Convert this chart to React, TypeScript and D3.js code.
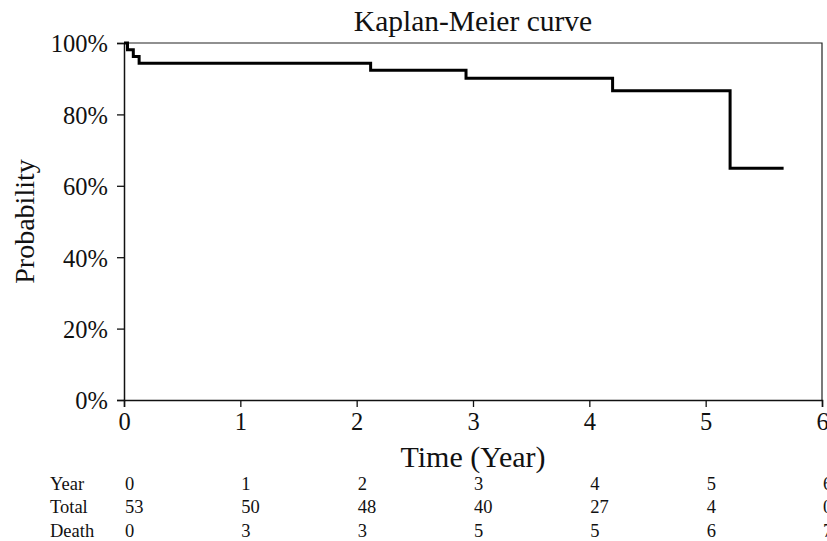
import { useEffect, useRef } from "react";
import * as d3 from "d3";

// step curve: event times (years) and survival after each step
const times = [0, 0.03, 0.08, 0.13, 2.12, 2.94, 4.2, 5.21, 5.67];
const survival = [1, 0.981, 0.962, 0.943, 0.924, 0.901, 0.866, 0.649, 0.649];

const yearTicks = [0, 1, 2, 3, 4, 5, 6];
const probTicks = [0, 0.2, 0.4, 0.6, 0.8, 1];

// number-at-risk table
const tableYear = ["0", "1", "2", "3", "4", "5", "6"];
const tableTotal = ["53", "50", "48", "40", "27", "4", "0"];
const tableDeath = ["0", "3", "3", "5", "5", "6", "7"];

const FONT = "'Liberation Serif', 'Times New Roman', serif";

export default function App() {
  const ref = useRef<SVGSVGElement>(null);
  const width = 827;
  const height = 541;
  const marginLeft = 124;
  const marginRight = 5;
  const marginTop = 43;
  const plotBottom = 400;

  useEffect(() => {
    const svg = d3.select(ref.current);
    svg.selectAll("*").remove();

    const x = d3.scaleLinear().domain([0, 6]).range([marginLeft, width - marginRight]);
    const y = d3.scaleLinear().domain([0, 1]).range([plotBottom, marginTop]);

    // frame (top + right)
    svg.append("path")
      .attr("d", `M${x(0)},${y(1)}H${x(6)}V${y(0)}`)
      .attr("fill", "none")
      .attr("stroke", "#222")
      .attr("stroke-width", 1.2);

    const xAxis = svg.append("g")
      .attr("transform", `translate(0,${plotBottom})`)
      .call(d3.axisBottom(x).tickValues(yearTicks).tickFormat(d3.format("d")).tickSize(7).tickPadding(6));
    const yAxis = svg.append("g")
      .attr("transform", `translate(${marginLeft},0)`)
      .call(d3.axisLeft(y).tickValues(probTicks).tickFormat(d3.format(".0%")).tickSize(7).tickPadding(9));

    [xAxis, yAxis].forEach(g => {
      g.select(".domain").attr("stroke", "#111").attr("stroke-width", 1.5);
      g.selectAll(".tick line").attr("stroke", "#111").attr("stroke-width", 1.3);
      g.selectAll("text")
        .attr("font-family", FONT)
        .attr("font-size", 24.5)
        .attr("fill", "#111");
    });
    yAxis.selectAll("text").attr("dy", "0.36em");

    const line = d3.line<number>()
      .x((_, i) => x(times[i]))
      .y(d => y(d))
      .curve(d3.curveStepAfter);

    svg.append("path")
      .datum(survival)
      .attr("d", line)
      .attr("fill", "none")
      .attr("stroke", "#000")
      .attr("stroke-width", 3);

    svg.append("text")
      .attr("x", 473)
      .attr("y", 31)
      .attr("text-anchor", "middle")
      .attr("font-family", FONT)
      .attr("font-size", 29.5)
      .attr("fill", "#111")
      .text("Kaplan-Meier curve");

    svg.append("text")
      .attr("x", 473)
      .attr("y", 467)
      .attr("text-anchor", "middle")
      .attr("font-family", FONT)
      .attr("font-size", 30)
      .attr("fill", "#111")
      .text("Time (Year)");

    svg.append("text")
      .attr("transform", `translate(34,${(marginTop + plotBottom) / 2}) rotate(-90)`)
      .attr("text-anchor", "middle")
      .attr("font-family", FONT)
      .attr("font-size", 28)
      .attr("fill", "#111")
      .text("Probability");

    const rows: [string, string[], number][] = [
      ["Year", tableYear, 490],
      ["Total", tableTotal, 513],
      ["Death", tableDeath, 537],
    ];
    rows.forEach(([label, vals, yy]) => {
      const g = svg.append("g")
        .attr("font-family", FONT)
        .attr("font-size", 18.5)
        .attr("fill", "#111");
      g.append("text").attr("x", 50).attr("y", yy).text(label);
      g.selectAll("text.v")
        .data(vals)
        .join("text")
        .attr("class", "v")
        .attr("x", (_, i) => x(yearTicks[i]) + 1)
        .attr("y", yy)
        .text(d => d);
    });
  }, []);

  return (
    <svg
      ref={ref}
      width={width}
      height={height}
      style={{ position: "absolute", left: 0, top: 0, background: "#fff" }}
    />
  );
}
